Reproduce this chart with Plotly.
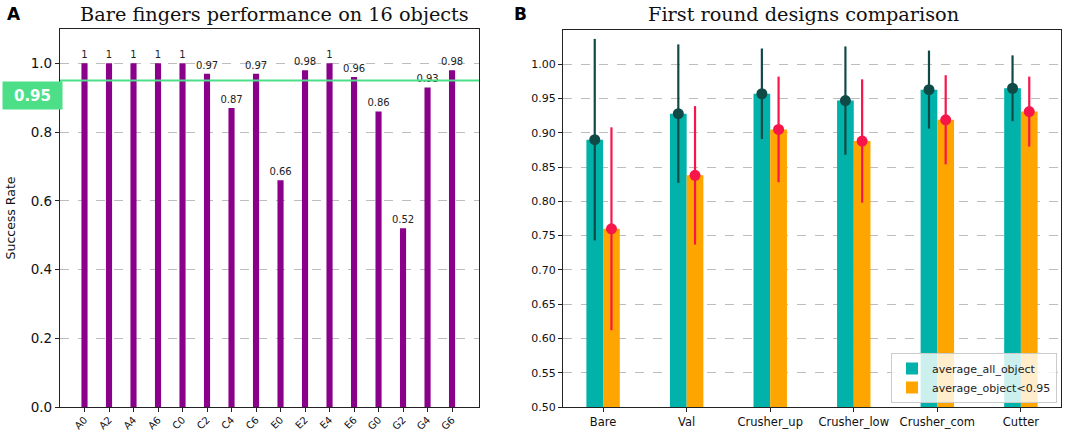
import plotly.graph_objects as go

# ---- data ----
objects = ["A0", "A2", "A4", "A6", "C0", "C2", "C4", "C6",
           "E0", "E2", "E4", "E6", "G0", "G2", "G4", "G6"]
success = [1, 1, 1, 1, 1, 0.97, 0.87, 0.97, 0.66, 0.98, 1, 0.96, 0.86, 0.52, 0.93, 0.98]
threshold = 0.95

designs = ["Bare", "Val", "Crusher_up", "Crusher_low", "Crusher_com", "Cutter"]
avg_all = [0.89, 0.928, 0.957, 0.947, 0.963, 0.965]
avg_all_err = [0.147, 0.101, 0.066, 0.079, 0.057, 0.048]
avg_low = [0.760, 0.838, 0.905, 0.888, 0.919, 0.931]
avg_low_err = [0.148, 0.101, 0.077, 0.090, 0.065, 0.051]

W, H = 1072, 439
PURPLE = "#8B008B"
TEAL = "#00B2A9"
ORANGE = "#FFA500"
DARK = "#0f4a47"
RED = "#f7154a"
GREEN = "#4ddf87"

def px(x):
    return x / W

def py(y):
    return 1 - y / H

fig = go.Figure()

# left panel bars
fig.add_trace(go.Bar(
    x=objects, y=success, width=0.25, marker_color=PURPLE,
    marker_line_width=0,
    text=[f"{v:g}" for v in success], textposition="outside",
    constraintext="none",
    textfont=dict(size=10, color="#222", family="DejaVu Sans"),
    cliponaxis=False, showlegend=False, xaxis="x", yaxis="y",
))

# right panel bars
xi = list(range(len(designs)))
x_all = [i - 0.1 for i in xi]
x_low = [i + 0.1 for i in xi]
fig.add_trace(go.Bar(
    x=x_all, y=avg_all, width=0.2, marker_color=TEAL, marker_line_width=0,
    name="average_all_object", xaxis="x2", yaxis="y2",
))
fig.add_trace(go.Bar(
    x=x_low, y=avg_low, width=0.2, marker_color=ORANGE, marker_line_width=0,
    name="average_object<0.95", xaxis="x2", yaxis="y2",
))
fig.add_trace(go.Scatter(
    x=x_all, y=avg_all, mode="markers",
    marker=dict(color=DARK, size=11),
    error_y=dict(type="data", array=avg_all_err, color=DARK, thickness=2.2, width=0),
    showlegend=False, xaxis="x2", yaxis="y2", cliponaxis=False,
))
fig.add_trace(go.Scatter(
    x=x_low, y=avg_low, mode="markers",
    marker=dict(color=RED, size=11),
    error_y=dict(type="data", array=avg_low_err, color=RED, thickness=2.2, width=0),
    showlegend=False, xaxis="x2", yaxis="y2", cliponaxis=False,
))

axis_common = dict(
    showline=True, linecolor="#222", linewidth=1.2, mirror=True,
    ticks="outside", ticklen=4, tickcolor="#222",
    zeroline=False, automargin=False,
)

fig.update_layout(
    width=W, height=H,
    margin=dict(l=0, r=0, t=0, b=0),
    paper_bgcolor="white", plot_bgcolor="white",
    barmode="overlay",
    font=dict(family="DejaVu Sans", color="#111"),
    xaxis=dict(domain=[px(60), px(479)], type="category", range=[-1.0, 16.1],
               tickangle=-45, showgrid=False, ticklabelstandoff=-2,
               tickfont=dict(family="DejaVu Sans", size=10, color="#111"),
               **axis_common),
    yaxis=dict(domain=[py(407), py(29)], range=[0, 1.1], anchor="x",
               tickvals=[0, 0.2, 0.4, 0.6, 0.8, 1.0],
               ticktext=["0.0", "0.2", "0.4", "0.6", "0.8", "1.0"],
               showgrid=True, gridcolor="#bdbdbd", griddash="dash", gridwidth=1,
               title=dict(text="Success Rate", font=dict(size=12.5), standoff=12),
               tickfont=dict(family="DejaVu Sans", size=13.5, color="#111"),
               **axis_common),
    xaxis2=dict(domain=[px(563), px(1061)], range=[-0.48, 5.48], anchor="y2",
                tickvals=xi, ticktext=designs, showgrid=False,
                tickfont=dict(family="DejaVu Sans", size=11.5, color="#111"),
                **axis_common),
    yaxis2=dict(domain=[py(407), py(30)], range=[0.5, 1.05], anchor="x2",
                tickvals=[0.5 + 0.05 * k for k in range(11)],
                tickformat=".2f",
                showgrid=True, gridcolor="#bdbdbd", griddash="dash", gridwidth=1,
                tickfont=dict(family="DejaVu Sans", size=11, color="#111"),
                **axis_common),
    legend=dict(x=px(1057), y=py(403), xanchor="right", yanchor="bottom",
                bgcolor="rgba(255,255,255,0.8)", bordercolor="#cccccc", borderwidth=1,
                font=dict(family="DejaVu Sans", size=11, color="#222"),
                traceorder="normal", itemwidth=30, tracegroupgap=0),
)

# threshold line
fig.add_shape(type="line", xref="x domain", yref="y", x0=0, x1=1,
              y0=threshold, y1=threshold, line=dict(color=GREEN, width=2))
fig.add_annotation(xref="paper", yref="y", x=px(32), y=threshold, xanchor="center",
                   yanchor="top", text="<b>0.95</b>", showarrow=False,
                   bgcolor=GREEN, width=57, height=25, borderpad=1,
                   font=dict(family="DejaVu Sans", size=15, color="white"))

# titles and panel labels
fig.add_annotation(xref="paper", yref="paper", x=px(274), y=py(15), xanchor="center",
                   yanchor="middle", text="Bare fingers performance on 16 objects",
                   showarrow=False, font=dict(family="DejaVu Serif", size=19.3, color="#111"))
fig.add_annotation(xref="paper", yref="paper", x=px(803), y=py(15), xanchor="center",
                   yanchor="middle", text="First round designs comparison",
                   showarrow=False, font=dict(family="DejaVu Serif", size=19.3, color="#111"))
fig.add_annotation(xref="paper", yref="paper", x=px(14), y=py(14), xanchor="center",
                   yanchor="middle", text="<b>A</b>",
                   showarrow=False, font=dict(family="DejaVu Sans", size=17, color="black"))
fig.add_annotation(xref="paper", yref="paper", x=px(520), y=py(14), xanchor="center",
                   yanchor="middle", text="<b>B</b>",
                   showarrow=False, font=dict(family="DejaVu Sans", size=17, color="black"))

fig.write_html("out.html", config={"displayModeBar": False},
               post_script="document.body.style.margin='0';document.body.style.padding='0';")
